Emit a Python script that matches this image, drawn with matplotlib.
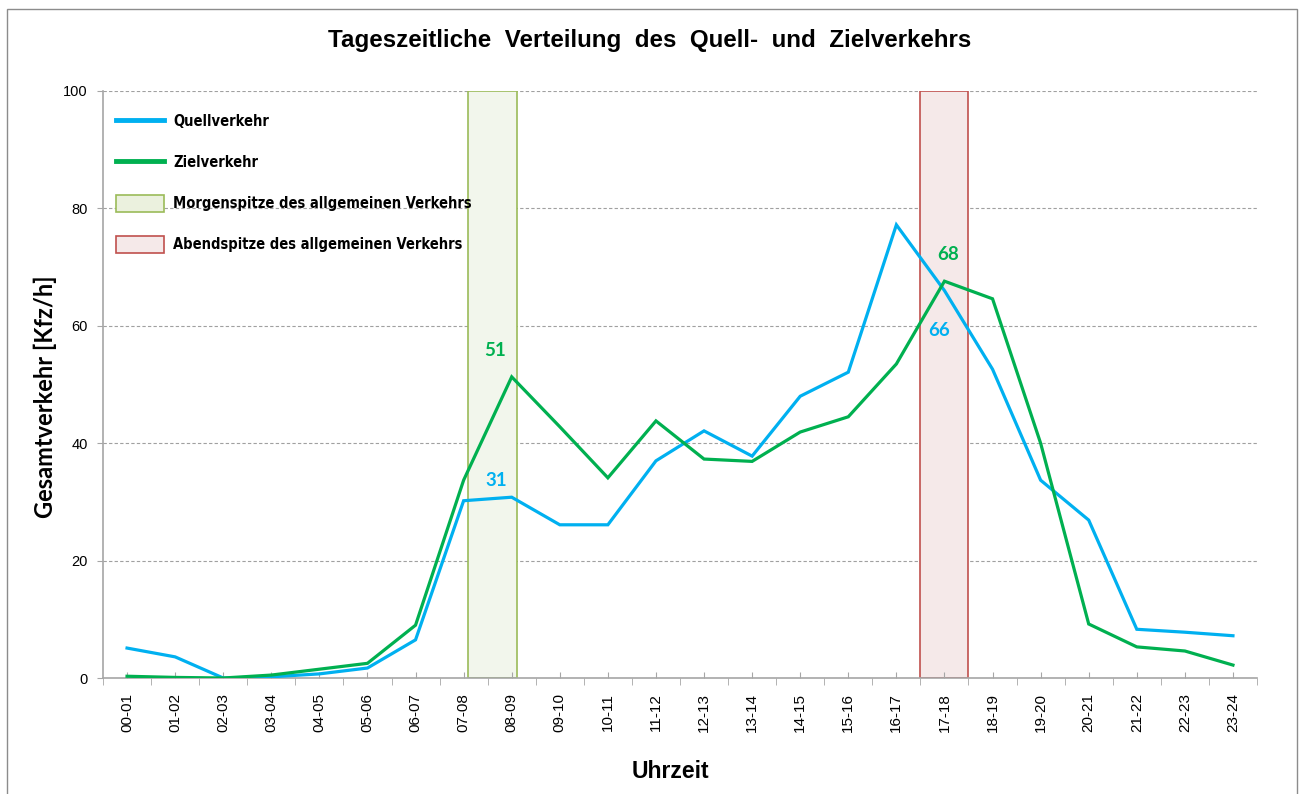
import matplotlib.pyplot as plt
import numpy as np
from matplotlib.lines import Line2D
from matplotlib.patches import Patch, Rectangle

# hourly categories
hours = [f"{h:02d}-{h + 1:02d}" for h in range(24)]

quell = [5.1, 3.6, 0.0, 0.2, 0.7, 1.7, 6.5, 30.2, 30.8, 26.1, 26.1, 37.0,
         42.1, 37.8, 48.0, 52.1, 77.2, 66.0, 52.6, 33.7, 26.9, 8.3, 7.8, 7.2]
ziel = [0.3, 0.1, 0.0, 0.5, 1.5, 2.5, 9.0, 33.7, 51.3, 42.8, 34.1, 43.8,
        37.3, 36.9, 41.9, 44.5, 53.5, 67.6, 64.6, 40.0, 9.2, 5.3, 4.6, 2.2]

# peak windows in clock hours (start, end)
morning_peak = (7.6, 8.6)
evening_peak = (17.0, 18.0)

# labelled points: (index, text)
labels_quell = [(8, "31"), (17, "66")]
labels_ziel = [(8, "51"), (17, "68")]

BLUE = "#00B0F0"
GREEN = "#00B050"
GREY = "#A6A6A6"

fig = plt.figure(figsize=(13, 7.94), dpi=100)
ax = fig.add_axes([103 / 1300, 116 / 794, 1154 / 1300, 587 / 794])

# outer chart border
fig.patches.append(Rectangle((7 / 1300, -0.05), 1290 / 1300, 0.05 + 785 / 794,
                             transform=fig.transFigure, fill=False,
                             edgecolor="#8C8C8C", linewidth=1.0))

x = np.arange(len(hours))

# peak boxes (category i covers hours i..i+1, centre at i)
for (start, end), face, edge in [(morning_peak, "#F2F6EC", "#9BBB59"),
                                 (evening_peak, "#F5E9E9", "#C0504D")]:
    ax.bar((start + end) / 2 - 0.5, 100, width=end - start, bottom=0,
           color=face, edgecolor=edge, linewidth=1.2, zorder=1)

ax.plot(x, quell, color=BLUE, linewidth=2.3, zorder=3, solid_joinstyle="miter")
ax.plot(x, ziel, color=GREEN, linewidth=2.3, zorder=3, solid_joinstyle="miter")

lab_font = dict(family=["Lato", "DejaVu Sans"], fontweight="bold", fontsize=13.5)
offsets_q = {8: (-11, 12), 17: (-4, -29)}
offsets_z = {8: (-12, 19), 17: (3, 19)}
for i, txt in labels_quell:
    ax.annotate(txt, (x[i], quell[i]), xytext=offsets_q[i], textcoords="offset points",
                ha="center", va="center", color=BLUE, zorder=4, **lab_font)
for i, txt in labels_ziel:
    ax.annotate(txt, (x[i], ziel[i]), xytext=offsets_z[i], textcoords="offset points",
                ha="center", va="center", color=GREEN, zorder=4, **lab_font)

ax.set_xlim(-0.5, len(hours) - 0.5)
ax.set_ylim(0, 100)
ax.set_yticks(np.arange(0, 101, 20))
ax.set_xticks(x)
ax.set_xticklabels(hours, rotation=90, family="Liberation Sans", fontsize=11)
ax.set_xticks(np.arange(-0.5, len(hours)), minor=True)
ax.tick_params(axis="x", which="major", direction="in", length=4, color=GREY, pad=11)
ax.tick_params(axis="x", which="minor", direction="out", length=5, color=GREY)
ax.tick_params(axis="y", length=4, color=GREY, pad=7, labelsize=10.5)
for t in ax.get_yticklabels():
    t.set_family("Liberation Sans")

for y in range(20, 101, 20):
    ax.axhline(y, color="#A0A0A0", linestyle=(0, (3, 2)), linewidth=0.8, zorder=0)

for side in ("top", "right"):
    ax.spines[side].set_visible(False)
for side in ("left", "bottom"):
    ax.spines[side].set_color(GREY)
    ax.spines[side].set_linewidth(1.2)

ax.set_ylabel("Gesamtverkehr [Kfz/h]", family=["Lato", "DejaVu Sans"],
              fontweight="bold", fontsize=17)
ax.yaxis.set_label_coords(-0.040, 0.479)
ax.set_xlabel("Uhrzeit", family="Liberation Sans", fontweight="bold", fontsize=16.5)
ax.xaxis.set_label_coords(0.492, -0.140)
fig.text(0.5, 1 - 40 / 794, "Tageszeitliche  Verteilung  des  Quell-  und  Zielverkehrs",
         ha="center", va="center", family="Liberation Sans", fontweight="bold",
         fontsize=17.4)

handles = [
    Line2D([], [], color=BLUE, linewidth=3.5),
    Line2D([], [], color=GREEN, linewidth=3.5),
    Patch(facecolor="#EBF1DE", edgecolor="#9BBB59", linewidth=1.2),
    Patch(facecolor="#F5E9E9", edgecolor="#C0504D", linewidth=1.2),
]
names = ["Quellverkehr", "Zielverkehr", "Morgenspitze des allgemeinen Verkehrs",
         "Abendspitze des allgemeinen Verkehrs"]
ax.legend(handles, names, loc="upper left", bbox_to_anchor=(0.0, 0.985),
          frameon=False, handlelength=3.3, handleheight=1.4, handletextpad=0.6,
          labelspacing=1.66,
          prop=dict(family="DejaVu Sans", stretch="condensed", weight="bold", size=10.5))

fig.savefig("out.png", dpi=100)
